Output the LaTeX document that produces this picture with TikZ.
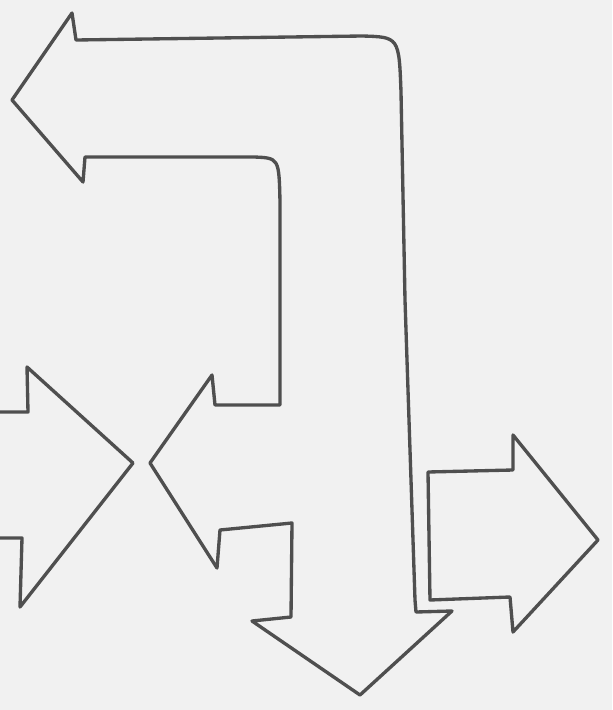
\documentclass[tikz,border=0pt]{standalone}
\definecolor{ink}{HTML}{4F4F4F}
\definecolor{paper}{HTML}{F1F1F1}
\tikzset{
  sketch/.style={draw=ink, line width=1.9pt, line join=round, line cap=round}
}
\begin{document}
\begin{tikzpicture}[x=0.02cm, y=-0.02cm]
  % Paper
  \fill[paper] (0,0) rectangle (612,710);
  \useasboundingbox (0,0) rectangle (612,710);

  % Arrow coming in from the left edge
  \draw[sketch] (0,412) -- (28,412) -- (27,367) -- (133,463) -- (20,607) -- (22,538) -- (0,538);

  % Big bent arrow: left, down and inward heads
  \draw[sketch] (76,40) -- (362,36) .. controls (399,37) .. (401,92) -- (405,300) -- (415,600)
    -- (416,612) -- (452,611) -- (360,695) -- (252,621) -- (291,617) -- (292,523)
    -- (220,530) -- (217,568) -- (150,463) -- (212,375) -- (215,405) -- (280,405)
    -- (280,202) .. controls (279,158) .. (254,157) -- (85,157) -- (83,182)
    -- (12,100) -- (72,13) -- cycle;

  % Arrow out to the right
  \draw[sketch] (428,472) -- (513,470) -- (513,435) -- (598,540) -- (513,632) -- (510,597) -- (430,600) -- cycle;
\end{tikzpicture}
\end{document}
